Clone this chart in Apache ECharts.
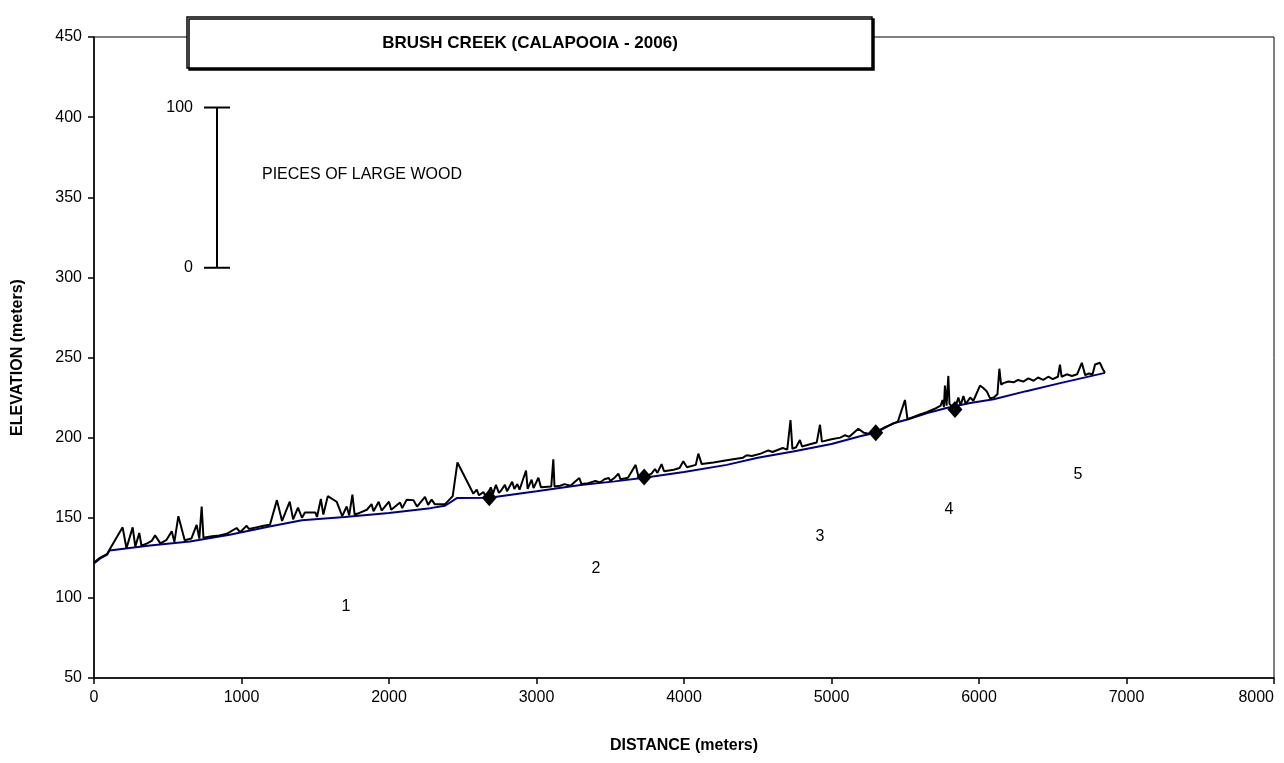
<!DOCTYPE html>
<html>
<head>
<meta charset="utf-8">
<title>Brush Creek</title>
<script src="https://cdn.jsdelivr.net/npm/echarts@6/dist/echarts.min.js"></script>
<style>
  html, body { margin: 0; padding: 0; background: #fff; }
  #chart { width: 1284px; height: 763px; }
</style>
</head>
<body>
<div id="chart"></div>
<script>
// 河床纵剖面 (距离 m, 高程 m)
var bedProfile = [
  [0, 121.5], [40, 124.5], [90, 127], [105, 129.5], [380, 132.7], [650, 135.2], [920, 139.4],
  [1190, 144.6], [1410, 148.5], [1700, 150.5], [2000, 153], [2280, 156], [2380, 157.5],
  [2460, 162.3], [2680, 162.5], [3000, 166.5], [3300, 170.5], [3530, 172.7], [3730, 175],
  [4000, 178.5], [4290, 183], [4500, 187.5], [4740, 191.4], [5000, 196], [5200, 201],
  [5300, 203], [5420, 209], [5520, 211.5], [5650, 215.4], [5780, 218.5], [5940, 221.6],
  [6100, 224], [6320, 229], [6550, 234], [6854, 240.4]
]

// 大木头线 (剖面 + 木头数量, 1 根 = 1 m)
var woodProfile = [
  [0, 122], [40, 125], [90, 127.5], [105, 130], [194, 144], [220, 131], [262, 144], [280, 132],
  [307, 140.5], [322, 132.5], [360, 134], [391, 135.5], [414, 139], [450, 134], [490, 136],
  [527, 141.5], [545, 135], [572, 151], [615, 136], [660, 137], [696, 145.5], [714, 137],
  [730, 157], [742, 137.5], [800, 138.5], [850, 139], [900, 140], [967, 143.6], [990, 141],
  [1035, 145], [1050, 143], [1100, 144], [1150, 145], [1193, 145.6], [1240, 161], [1275, 148],
  [1327, 160], [1350, 149], [1383, 156.3], [1410, 150], [1430, 153.3], [1500, 153.3],
  [1512, 150.5], [1538, 161.7], [1555, 152], [1585, 163.5], [1645, 160], [1683, 151],
  [1713, 157], [1730, 151.5], [1752, 164.4], [1767, 152], [1800, 153], [1850, 155],
  [1882, 158.5], [1895, 154], [1930, 160], [1950, 154.5], [2000, 160], [2015, 155],
  [2075, 159.5], [2090, 156], [2120, 161.3], [2165, 161], [2190, 157], [2244, 163],
  [2265, 158], [2289, 161.3], [2310, 158.5], [2340, 158.5], [2380, 158.5], [2432, 163.5],
  [2464, 184.5], [2572, 165], [2595, 167.5], [2610, 164], [2640, 166], [2660, 163],
  [2690, 169], [2705, 165], [2725, 170.5], [2745, 165.5], [2760, 167], [2786, 170.5],
  [2800, 166.5], [2835, 172.5], [2850, 168], [2870, 171], [2885, 167.5], [2929, 179.5],
  [2940, 168], [2967, 173.8], [2980, 168.5], [3013, 175], [3030, 169], [3100, 169.5],
  [3114, 186.5], [3122, 169.5], [3160, 170], [3190, 171], [3230, 170], [3290, 174.8],
  [3305, 171], [3350, 171.5], [3400, 173], [3430, 172], [3460, 174], [3490, 174.8],
  [3500, 173], [3530, 175], [3555, 177.5], [3570, 174], [3620, 175], [3672, 183],
  [3690, 176], [3736, 175.5], [3780, 177.5], [3803, 180.4], [3820, 178], [3848, 183.5],
  [3865, 179], [3930, 180], [3970, 181], [3995, 185.2], [4020, 181.5], [4080, 183],
  [4097, 190], [4120, 183.5], [4200, 184.5], [4300, 186], [4400, 187.5], [4425, 189],
  [4460, 188.5], [4520, 190], [4572, 192], [4600, 191], [4669, 193.5], [4700, 192.5],
  [4722, 211], [4735, 193], [4760, 194], [4786, 198.5], [4800, 194.5], [4860, 196],
  [4900, 197], [4922, 208], [4935, 197.5], [5000, 199], [5060, 200], [5092, 201.5],
  [5120, 200.5], [5182, 205.5], [5220, 203], [5250, 202.5], [5300, 203.5], [5350, 206],
  [5400, 208], [5450, 210], [5498, 223.5], [5515, 211.5], [5560, 213], [5600, 214.5],
  [5650, 216], [5700, 218], [5740, 220], [5753, 223.5], [5762, 219], [5769, 232.5],
  [5780, 220], [5792, 238.5], [5800, 221], [5837, 218], [5860, 225], [5875, 220],
  [5894, 226], [5910, 221], [5940, 225], [5962, 223], [6007, 232.5], [6029, 231],
  [6052, 229], [6075, 224.5], [6100, 225], [6125, 227], [6138, 243], [6150, 233],
  [6165, 234], [6200, 235], [6235, 234.5], [6265, 236], [6300, 235], [6335, 237],
  [6370, 235.5], [6400, 237.5], [6435, 236], [6470, 238], [6500, 236.5], [6535, 238],
  [6549, 245.6], [6560, 238], [6595, 239.5], [6630, 238.5], [6665, 239.5], [6697, 246.7],
  [6720, 239], [6745, 240], [6770, 239.5], [6787, 245.6], [6800, 245], [6820, 246.7],
  [6838, 243], [6854, 240.5]
]

// 河段分界点
var reachBreaks = [[2680, 162.5], [3730, 175.5], [5300, 203], [5837, 217.5]]

// 河段编号位置
var reachNames = ['1', '2', '3', '4', '5']
var reachLabelPos = [[1708, 94.4], [3403, 118], [4922, 138], [5797, 155], [6671, 177]]

// 比例尺 (木头根数)
var scaleX = 834
var scaleBottom = 306
var scaleTop = 406

var font = 'Liberation Sans, Arial, sans-serif'

var myChart = echarts.init(document.getElementById('chart'))

var option = {
  backgroundColor: '#fff',
  animation: false,
  textStyle: { fontFamily: font },
  grid: {
    left: 94,
    right: 10,
    top: 37,
    bottom: 85,
    outerBoundsMode: 'none',
    containLabel: false,
    show: true,
    borderColor: '#000',
    borderWidth: 1
  },
  xAxis: {
    type: 'value',
    min: 0,
    max: 8000,
    interval: 1000,
    name: 'DISTANCE (meters)',
    nameLocation: 'middle',
    nameGap: 60,
    nameTextStyle: { fontSize: 16, fontWeight: 'bold', color: '#000', fontFamily: font },
    axisLine: { show: true, lineStyle: { color: '#000', width: 1.5 } },
    axisTick: { show: true, length: 6, lineStyle: { color: '#000', width: 1.5 } },
    axisLabel: {
      fontSize: 16,
      color: '#000',
      margin: 12,
      fontFamily: font,
      alignMaxLabel: 'right',
      formatter: function (v) { return String(v) }
    },
    splitLine: { show: false }
  },
  yAxis: {
    type: 'value',
    min: 50,
    max: 450,
    interval: 50,
    name: 'ELEVATION (meters)',
    nameLocation: 'middle',
    nameGap: 68,
    nameTextStyle: { fontSize: 16, fontWeight: 'bold', color: '#000', fontFamily: font },
    axisLine: { show: true, lineStyle: { color: '#000', width: 1.5 } },
    axisTick: { show: true, length: 6, lineStyle: { color: '#000', width: 1.5 } },
    axisLabel: { fontSize: 16, color: '#000', margin: 12, fontFamily: font },
    splitLine: { show: false }
  },
  series: [
    {
      name: 'bed',
      type: 'line',
      data: bedProfile,
      symbol: 'none',
      lineStyle: { color: '#000080', width: 2 },
      z: 2
    },
    {
      name: 'wood',
      type: 'line',
      data: woodProfile,
      symbol: 'none',
      lineStyle: { color: '#000', width: 2 },
      z: 3
    },
    {
      name: 'breaks',
      type: 'scatter',
      data: reachBreaks,
      symbol: 'diamond',
      symbolSize: [15, 17],
      itemStyle: { color: '#000', opacity: 1 },
      z: 4
    },
    {
      name: 'reaches',
      type: 'scatter',
      data: reachLabelPos.map(function (p, i) {
        return { value: p, name: reachNames[i] }
      }),
      symbolSize: 0,
      itemStyle: { opacity: 1 },
      label: {
        show: true,
        position: 'inside',
        formatter: '{b}',
        fontSize: 16,
        color: '#000',
        fontFamily: font
      },
      z: 4
    }
  ]
}

myChart.setOption(option)

// 比例尺和标题框
var sTop = myChart.convertToPixel({ gridIndex: 0 }, [scaleX, scaleTop])
var sBot = myChart.convertToPixel({ gridIndex: 0 }, [scaleX, scaleBottom])
var lineStyle = { stroke: '#000', lineWidth: 2 }

myChart.setOption({
  graphic: [
    { type: 'line', shape: { x1: sTop[0], y1: sTop[1], x2: sBot[0], y2: sBot[1] }, style: lineStyle },
    { type: 'line', shape: { x1: sTop[0] - 13, y1: sTop[1], x2: sTop[0] + 13, y2: sTop[1] }, style: lineStyle },
    { type: 'line', shape: { x1: sBot[0] - 13, y1: sBot[1], x2: sBot[0] + 13, y2: sBot[1] }, style: lineStyle },
    {
      type: 'text', x: sTop[0] - 24, y: sTop[1],
      style: { text: '100', fontSize: 16, fill: '#000', align: 'right', verticalAlign: 'middle', fontFamily: font }
    },
    {
      type: 'text', x: sBot[0] - 24, y: sBot[1],
      style: { text: '0', fontSize: 16, fill: '#000', align: 'right', verticalAlign: 'middle', fontFamily: font }
    },
    {
      type: 'text', x: 262, y: 175,
      style: { text: 'PIECES OF LARGE WOOD', fontSize: 16, fill: '#000', align: 'left', verticalAlign: 'middle', fontFamily: font }
    },
    {
      type: 'rect', z: 10,
      shape: { x: 187, y: 17, width: 685, height: 51 },
      style: { fill: '#fff', stroke: '#000', lineWidth: 1.5, shadowColor: '#000', shadowOffsetX: 2, shadowOffsetY: 2, shadowBlur: 0 }
    },
    {
      type: 'text', z: 11, x: 530, y: 43,
      style: { text: 'BRUSH CREEK (CALAPOOIA - 2006)', fontSize: 17, fontWeight: 'bold', fill: '#000', align: 'center', verticalAlign: 'middle', fontFamily: font }
    }
  ]
})
</script>
</body>
</html>
